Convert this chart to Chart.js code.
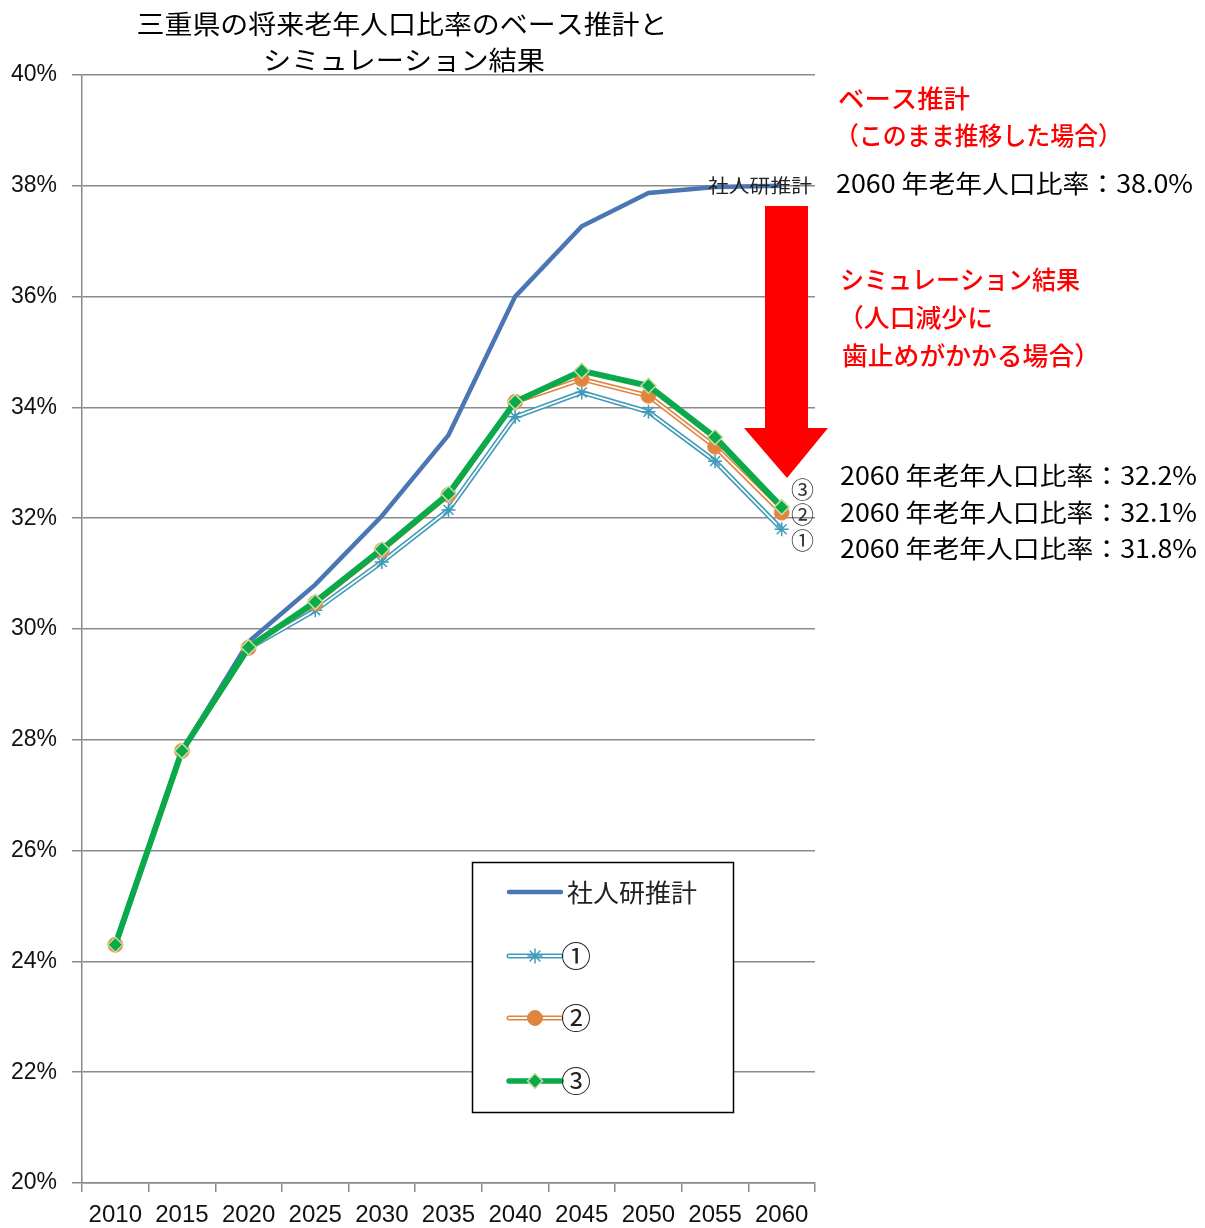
<!DOCTYPE html>
<html>
<head>
<meta charset="utf-8">
<script src="https://cdn.jsdelivr.net/npm/chart.js@4.4.1/dist/chart.umd.min.js"></script>
<style>
html,body{margin:0;padding:0;background:#fff;}
#wrap{width:1205px;height:1228px;position:relative;}
</style>
</head>
<body>
<div id="wrap"><canvas id="c" width="1205" height="1228"></canvas></div>
<script>
const years = ['2010','2015','2020','2025','2030','2035','2040','2045','2050','2055','2060'];
const baseSeries = [24.3, 27.8, 29.77, 30.8, 32.04, 33.5, 36.0, 37.27, 37.87, 37.98, 38.0];
const sim1 = [24.3, 27.8, 29.65, 30.34, 31.21, 32.15, 33.83, 34.27, 33.92, 33.03, 31.8];
const sim2 = [24.3, 27.8, 29.66, 30.47, 31.42, 32.42, 34.1, 34.51, 34.21, 33.29, 32.1];
const sim3 = [24.3, 27.8, 29.67, 30.49, 31.44, 32.44, 34.1, 34.66, 34.39, 33.46, 32.2];
const seriesNames = ['社人研推計', '①', '②', '③'];
const yTicks = [20, 22, 24, 26, 28, 30, 32, 34, 36, 38, 40];

const titleLines = ['三重県の将来老年人口比率のベース推計と', 'シミュレーション結果'];
const noteBase = ['ベース推計', '（このまま推移した場合）'];
const noteBaseValue = '2060 年老年人口比率：38.0%';
const noteSim = ['シミュレーション結果', '（人口減少に', '歯止めがかかる場合）'];
const noteSimValues = ['2060 年老年人口比率：32.2%', '2060 年老年人口比率：32.1%', '2060 年老年人口比率：31.8%'];

const C_BASE = '#4a76b4';
const C_S1 = '#3f9bb8';
const C_S2 = '#e0843e';
const C_S3 = '#0aaa4a';
const GRID = '#8a8a8a';
const JP = '"Noto Sans CJK JP", "Noto Sans", sans-serif';

function fitText(ctx, text, x, y, w, align) {
  const m = ctx.measureText(text).width;
  const s = w / m;
  ctx.save();
  let x0 = x;
  if (align === 'center') x0 = x - w / 2;
  else if (align === 'right') x0 = x - w;
  ctx.translate(x0, y);
  ctx.scale(s, 1);
  ctx.textAlign = 'left';
  ctx.fillText(text, 0, 0);
  ctx.restore();
}

const decor = {
  id: 'decor',
  afterDraw(chart) {
    const ctx = chart.ctx;
    const H = Chart.helpers;
    ctx.save();
    ctx.textBaseline = 'middle';
    // title
    ctx.fillStyle = '#000';
    ctx.font = '26px ' + JP;
    fitText(ctx, titleLines[0], 402, 24, 531, 'center');
    fitText(ctx, titleLines[1], 404, 60, 282, 'center');

    // end labels
    const ys = chart.scales.y;
    ctx.font = '19px ' + JP;
    ctx.fillStyle = '#222';
    fitText(ctx, seriesNames[0], 708, ys.getPixelForValue(baseSeries[10]), 104, 'left');
    ctx.font = '23px ' + JP;
    ctx.fillStyle = '#333';
    ctx.textAlign = 'left';
    ctx.fillText(seriesNames[3], 791, 489);
    ctx.fillText(seriesNames[2], 791, 514);
    ctx.fillText(seriesNames[1], 791, 540);

    // red arrow
    ctx.fillStyle = '#ff0000';
    ctx.beginPath();
    ctx.moveTo(765, 206);
    ctx.lineTo(808, 206);
    ctx.lineTo(808, 428);
    ctx.lineTo(828, 428);
    ctx.lineTo(787, 478);
    ctx.lineTo(744, 428);
    ctx.lineTo(765, 428);
    ctx.closePath();
    ctx.fill();

    // right notes
    ctx.fillStyle = '#ff0000';
    ctx.font = '500 25px ' + JP;
    fitText(ctx, noteBase[0], 838, 98, 132, 'left');
    fitText(ctx, noteBase[1], 835, 135, 287, 'left');
    fitText(ctx, noteSim[0], 840, 279, 240, 'left');
    fitText(ctx, noteSim[1], 838, 317, 155, 'left');
    fitText(ctx, noteSim[2], 842, 355, 258, 'left');
    ctx.fillStyle = '#000';
    ctx.font = '25px ' + JP;
    fitText(ctx, noteBaseValue, 836, 183, 357, 'left');
    fitText(ctx, noteSimValues[0], 840, 475, 357, 'left');
    fitText(ctx, noteSimValues[1], 840, 512, 357, 'left');
    fitText(ctx, noteSimValues[2], 840, 548, 357, 'left');

    // legend box
    ctx.fillStyle = '#fff';
    ctx.fillRect(472, 862, 261, 250);
    ctx.strokeStyle = '#000';
    ctx.lineWidth = 1.5;
    ctx.strokeRect(472.5, 862.5, 261, 250);
    const rows = [892, 956, 1018, 1081];
    const lx0 = 509, lx1 = 561, mx = 535;
    ctx.lineCap = 'round';
    ctx.strokeStyle = C_BASE; ctx.lineWidth = 4.5;
    ctx.beginPath(); ctx.moveTo(lx0, rows[0]); ctx.lineTo(lx1, rows[0]); ctx.stroke();
    ctx.strokeStyle = C_S1; ctx.lineWidth = 5;
    ctx.beginPath(); ctx.moveTo(lx0, rows[1]); ctx.lineTo(lx1, rows[1]); ctx.stroke();
    ctx.strokeStyle = '#fff'; ctx.lineWidth = 1.8;
    ctx.beginPath(); ctx.moveTo(lx0, rows[1]); ctx.lineTo(lx1, rows[1]); ctx.stroke();
    ctx.strokeStyle = C_S1; ctx.fillStyle = C_S1; ctx.lineWidth = 1.5;
    H.drawPoint(ctx, {pointStyle: 'star', radius: 7, rotation: 0, borderWidth: 1.5}, mx, rows[1]);
    ctx.strokeStyle = C_S2; ctx.lineWidth = 5;
    ctx.beginPath(); ctx.moveTo(lx0, rows[2]); ctx.lineTo(lx1, rows[2]); ctx.stroke();
    ctx.strokeStyle = '#fff'; ctx.lineWidth = 1.8;
    ctx.beginPath(); ctx.moveTo(lx0, rows[2]); ctx.lineTo(lx1, rows[2]); ctx.stroke();
    ctx.strokeStyle = C_S2; ctx.fillStyle = C_S2; ctx.lineWidth = 1;
    H.drawPoint(ctx, {pointStyle: 'circle', radius: 7.5, rotation: 0, borderWidth: 1}, mx, rows[2]);
    ctx.strokeStyle = C_S3; ctx.lineWidth = 5.5;
    ctx.beginPath(); ctx.moveTo(lx0, rows[3]); ctx.lineTo(lx1, rows[3]); ctx.stroke();
    ctx.strokeStyle = '#c6dca0'; ctx.fillStyle = C_S3; ctx.lineWidth = 1.5;
    H.drawPoint(ctx, {pointStyle: 'rectRot', radius: 7.5, rotation: 0, borderWidth: 1.5}, mx, rows[3]);
    ctx.fillStyle = '#222';
    ctx.font = '25px ' + JP;
    fitText(ctx, seriesNames[0], 567, rows[0], 130, 'left');
    ctx.font = '30px ' + JP;
    ctx.textAlign = 'left';
    ctx.fillText(seriesNames[1], 561, rows[1]);
    ctx.fillText(seriesNames[2], 561, rows[2]);
    ctx.fillText(seriesNames[3], 561, rows[3]);
    ctx.restore();
  }
};

new Chart(document.getElementById('c'), {
  type: 'line',
  data: {
    labels: years,
    datasets: [
      {label: seriesNames[0], data: baseSeries, borderColor: C_BASE, borderWidth: 4.5, pointRadius: 0, order: 6, clip: false, tension: 0},
      {label: seriesNames[1], data: sim1, borderColor: C_S1, borderWidth: 5, pointRadius: 0, order: 5, clip: false},
      {label: seriesNames[1] + ' inner', data: sim1, borderColor: '#ffffff', borderWidth: 1.8, order: 4, clip: false,
        pointStyle: 'star', pointRadius: 7, pointBorderColor: C_S1, pointBackgroundColor: C_S1, pointBorderWidth: 1.5},
      {label: seriesNames[2], data: sim2, borderColor: C_S2, borderWidth: 5, pointRadius: 0, order: 3, clip: false},
      {label: seriesNames[2] + ' inner', data: sim2, borderColor: '#ffffff', borderWidth: 1.8, order: 2, clip: false,
        pointStyle: 'circle', pointRadius: 7.5, pointBorderColor: '#e89a5c', pointBackgroundColor: C_S2, pointBorderWidth: 1},
      {label: seriesNames[3], data: sim3, borderColor: C_S3, borderWidth: 6, order: 1, clip: false,
        pointStyle: 'rectRot', pointRadius: 7.5, pointBorderColor: '#c6dca0', pointBackgroundColor: C_S3, pointBorderWidth: 1.5}
    ]
  },
  options: {
    responsive: false,
    animation: false,
    devicePixelRatio: 1,
    layout: {padding: {top: 75, right: 390, bottom: 0, left: 0}},
    plugins: {legend: {display: false}, tooltip: {enabled: false}, title: {display: false}},
    scales: {
      x: {
        type: 'category',
        offset: true,
        afterFit(s) { s.height = 45; },
        grid: {offset: true, drawOnChartArea: false, drawTicks: true, tickLength: 9, color: GRID, lineWidth: 1.5},
        border: {color: GRID, width: 1.5},
        ticks: {color: '#111', font: {family: '"Liberation Sans", Arial, sans-serif', size: 24}, padding: 9, maxRotation: 0, autoSkip: false}
      },
      y: {
        min: 20, max: 40,
        afterFit(s) { s.width = 82; },
        afterBuildTicks(s) { s.ticks = yTicks.map(v => ({value: v})); },
        grid: {color: GRID, lineWidth: 1.5, tickLength: 10},
        border: {color: GRID, width: 1.5},
        ticks: {color: '#111', font: {family: '"Liberation Sans", Arial, sans-serif', size: 23}, padding: 15,
          callback: v => v + '%'}
      }
    }
  },
  plugins: [decor]
});
</script>
</body>
</html>
